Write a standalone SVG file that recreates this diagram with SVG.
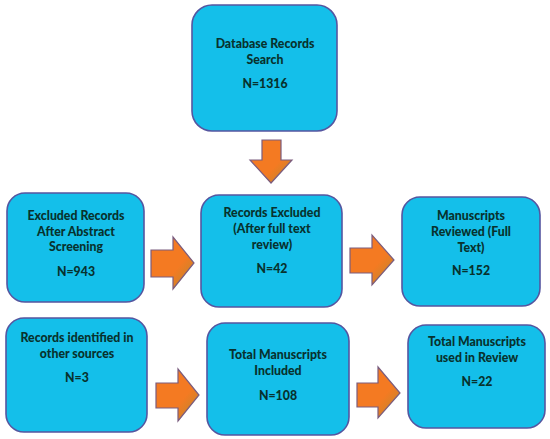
<svg xmlns="http://www.w3.org/2000/svg" width="550" height="439" viewBox="0 0 550 439">
<style>
.box{fill:#14BFEA;stroke:#5556A0;stroke-width:1.6}
.t{font-family:Lato,"Open Sans","Liberation Sans",sans-serif;font-weight:900;font-size:12.3px;fill:#08322E;text-anchor:middle}
.arr{fill:url(#og);stroke:#7A5C7E;stroke-width:1.2;stroke-linejoin:miter}
</style>
<defs>
<linearGradient id="og" x1="0" y1="0" x2="1" y2="1">
<stop offset="0" stop-color="#F47A22"/>
<stop offset="0.6" stop-color="#F47A22"/>
<stop offset="1" stop-color="#B08A30"/>
</linearGradient>
</defs>
<rect width="550" height="439" fill="#FFFFFF"/>
<g id="connectors">
<polygon class="arr" points="262,140 281,140 281,160 292,160 271,183 250,160 262,160"/>
<polygon class="arr" points="151,250 173,250 173,237 194,263 173,289 173,277 151,277"/>
<polygon class="arr" points="350,248 372,248 372,235 394,260 372,285 372,273 350,273"/>
<polygon class="arr" points="156,383 178,383 178,369 199,395 178,421 178,408 156,408"/>
<polygon class="arr" points="357,383 378,383 378,367 400,393 378,418 378,407 357,407"/>
</g>
<g id="n1">
<rect class="box" x="192" y="5" width="145" height="126" rx="20"/>
<text class="t" x="265" y="48">Database Records</text>
<text class="t" x="265" y="64">Search</text>
<text class="t" x="265" y="88">N=1316</text>
</g>
<g id="n2">
<rect class="box" x="7" y="193" width="137" height="109" rx="18"/>
<text class="t" x="76" y="220">Excluded Records</text>
<text class="t" x="76" y="236">After Abstract</text>
<text class="t" x="76" y="251">Screening</text>
<text class="t" x="76" y="276">N=943</text>
</g>
<g id="n3">
<rect class="box" x="201" y="195" width="141" height="112" rx="18"/>
<text class="t" x="272" y="217">Records Excluded</text>
<text class="t" x="272" y="233">(After full text</text>
<text class="t" x="272" y="249">review)</text>
<text class="t" x="272" y="273">N=42</text>
</g>
<g id="n4">
<rect class="box" x="402" y="197" width="138" height="109" rx="18"/>
<text class="t" x="471" y="220">Manuscripts</text>
<text class="t" x="471" y="236">Reviewed (Full</text>
<text class="t" x="471" y="252">Text)</text>
<text class="t" x="471" y="275">N=152</text>
</g>
<g id="n5">
<rect class="box" x="6" y="318" width="141" height="114" rx="18"/>
<text class="t" x="77" y="342">Records identified in</text>
<text class="t" x="77" y="358">other sources</text>
<text class="t" x="77" y="382">N=3</text>
</g>
<g id="n6">
<rect class="box" x="207" y="323" width="142" height="112" rx="18"/>
<text class="t" x="278" y="359">Total Manuscripts</text>
<text class="t" x="278" y="375">Included</text>
<text class="t" x="278" y="400">N=108</text>
</g>
<g id="n7">
<rect class="box" x="408" y="325" width="137" height="103" rx="18"/>
<text class="t" x="477" y="346">Total Manuscripts</text>
<text class="t" x="477" y="362">used in Review</text>
<text class="t" x="477" y="386">N=22</text>
</g>
</svg>
